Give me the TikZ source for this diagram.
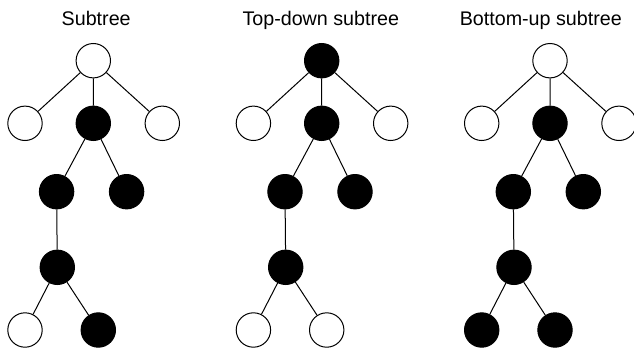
\documentclass[tikz,border=0pt]{standalone}
\usepackage{fontspec}
\setmainfont{Liberation Sans}
\begin{document}
\begin{tikzpicture}[x=1pt,y=-1pt,
  wn/.style={circle,draw=black,fill=white,line width=1pt,minimum size=34.4pt,inner sep=0pt},
  bn/.style={circle,draw=black,fill=black,line width=1pt,minimum size=34.4pt,inner sep=0pt},
  edge/.style={draw=black,line width=1pt},
  title/.style={font=\fontsize{19.7}{23}\selectfont,inner sep=0pt,anchor=base}]
\useasboundingbox (0,0) rectangle (634,351);
% Tree 1
\def\R{93.3}
\node[wn] (t1r) at (\R,60.7) {};
\node[wn] (t1a) at (\R-68.3,123.3) {};
\node[bn] (t1b) at (\R,123.3) {};
\node[wn] (t1c) at (\R+69,123.3) {};
\node[bn] (t1d) at (\R-36.7,191.7) {};
\node[bn] (t1e) at (\R+33.3,191.7) {};
\node[bn] (t1f) at (\R-36,267.3) {};
\node[wn] (t1g) at (\R-68.3,330) {};
\node[bn] (t1h) at (\R+5,330) {};
\draw[edge] (t1r)--(t1a) (t1r)--(t1b) (t1r)--(t1c) (t1b)--(t1d) (t1b)--(t1e) (t1d)--(t1f) (t1f)--(t1g) (t1f)--(t1h);
\node[title] (l1) at (96.2,25) {Subtree};
% Tree 2
\def\R{321.7}
\node[bn] (t2r) at (\R,60.7) {};
\node[wn] (t2a) at (\R-68.3,123.3) {};
\node[bn] (t2b) at (\R,123.3) {};
\node[wn] (t2c) at (\R+69,123.3) {};
\node[bn] (t2d) at (\R-36.7,191.7) {};
\node[bn] (t2e) at (\R+33.3,191.7) {};
\node[bn] (t2f) at (\R-36,267.3) {};
\node[wn] (t2g) at (\R-68.3,330) {};
\node[wn] (t2h) at (\R+5,330) {};
\draw[edge] (t2r)--(t2a) (t2r)--(t2b) (t2r)--(t2c) (t2b)--(t2d) (t2b)--(t2e) (t2d)--(t2f) (t2f)--(t2g) (t2f)--(t2h);
\node[title] (l2) at (320.8,25) {Top-down subtree};
% Tree 3
\def\R{550}
\node[wn] (t3r) at (\R,60.7) {};
\node[wn] (t3a) at (\R-68.3,123.3) {};
\node[bn] (t3b) at (\R,123.3) {};
\node[wn] (t3c) at (\R+69,123.3) {};
\node[bn] (t3d) at (\R-36.7,191.7) {};
\node[bn] (t3e) at (\R+33.3,191.7) {};
\node[bn] (t3f) at (\R-36,267.3) {};
\node[bn] (t3g) at (\R-68.3,330) {};
\node[bn] (t3h) at (\R+5,330) {};
\draw[edge] (t3r)--(t3a) (t3r)--(t3b) (t3r)--(t3c) (t3b)--(t3d) (t3b)--(t3e) (t3d)--(t3f) (t3f)--(t3g) (t3f)--(t3h);
\node[title] (l3) at (540.8,25) {Bottom-up subtree};
\end{tikzpicture}
\end{document}
